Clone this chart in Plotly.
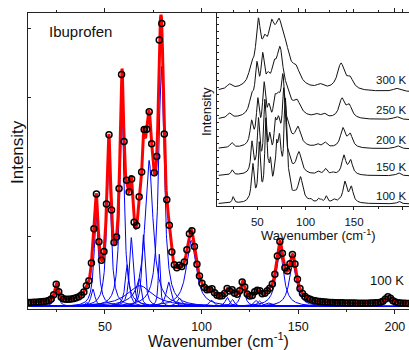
import numpy as np
import plotly.graph_objects as go

# ---------------- data: 100 K fit components (centre cm-1, height, HWHM) ----------------
peak_centers = [25.0, 40.5, 43.8, 45.5, 52.0, 58.8, 61.5, 63.6, 67.8, 69.9, 72.8, 78.1, 79.2,
                83.0, 88.5, 94.6, 105.2, 113.3, 116.0, 121.3, 128.0, 129.8, 134.5, 140.5, 147.2,
                196.6, 68.0]
peak_heights = [0.25, 0.06, 0.25, 1.32, 2.15, 2.90, 0.60, 0.99, 0.40, 1.03, 2.10, 0.75, 3.45,
                0.35, 0.12, 0.95, 0.09, 0.13, 0.10, 0.26, 0.09, 0.08, 0.05, 0.81, 0.61,
                0.10, 0.30]
peak_widths = [1.2, 1.0, 1.2, 1.3, 1.3, 1.3, 1.2, 1.1, 1.0, 1.0, 2.5, 0.6, 1.7,
               1.5, 1.5, 3.0, 1.5, 1.3, 1.2, 1.5, 1.3, 1.3, 2.0, 2.3, 2.3,
               2.0, 8.0]
background = 0.035
data_step = 1.3          # spacing of measured points (cm-1)

# ---------------- inset: temperature series (centre, height[px units], HWHM) ----------------
temperatures = ["100 K", "150 K", "200 K", "250 K", "300 K"]
inset_offsets = [2, 30, 57, 86, 114]
inset_scale_100 = 25.5

c150 = [24.0, 44.5, 51.2, 57.8, 62.8, 68.5, 71.8, 77.3, 82.5, 93.0, 113.0, 120.5, 128.0, 139.5, 146.5, 196.0, 67.0]
h150 = [5, 30, 50, 65, 24, 25, 40, 72, 9, 21, 3, 6, 2, 19, 14, 3, 8]
w150 = [1.5, 1.4, 1.4, 1.5, 1.6, 1.4, 3.0, 1.9, 2.0, 3.2, 2.0, 2.0, 2.0, 2.5, 2.5, 2.5, 9]

c200 = [23.5, 44.0, 50.5, 57.0, 62.0, 68.0, 71.5, 76.5, 82.0, 92.0, 112.0, 120.0, 138.5, 146.0, 195.0, 67.0]
h200 = [5, 22, 40, 52, 22, 20, 30, 55, 10, 18, 3, 5, 19, 13, 3, 10]
w200 = [2.0, 1.8, 1.8, 2.0, 2.2, 2.0, 3.5, 2.4, 2.5, 3.5, 2.5, 2.5, 3.0, 3.0, 3.0, 10]

c250 = [21.0, 44.0, 49.5, 55.5, 61.0, 67.0, 73.5, 81.0, 91.0, 111.0, 119.0, 137.5, 145.0, 194.0, 67.0]
h250 = [5, 15, 42, 46, 18, 22, 55, 10, 13, 3, 4, 19, 12, 3, 13]
w250 = [2.5, 2.5, 2.2, 2.3, 3.0, 3.0, 4.5, 3.0, 4.5, 3.0, 3.0, 3.5, 3.5, 3.5, 12]

c300 = [21.0, 44.0, 51.0, 57.5, 64.5, 72.5, 79.5, 90.0, 115.0, 136.5, 146.0, 194.0, 67.0]
h300 = [5, 14, 55, 22, 36, 42, 22, 14, 4, 26, 10, 3, 16]
w300 = [3.0, 3.0, 3.0, 3.0, 4.0, 5.0, 5.0, 5.0, 4.0, 4.5, 4.0, 4.0, 14]

label_y = [10, 39, 66, 96, 126]


def lor(x, c, h, w):
    return h / (1.0 + ((x - c) / w) ** 2)


def spectrum(x, cs, hs, ws):
    y = np.zeros_like(x)
    for c, h, w in zip(cs, hs, ws):
        y += lor(x, c, h, w)
    return y


xf = np.arange(10.0, 207.6, 0.1)
xd = np.arange(10.5, 207.6, data_step)

fig = go.Figure()

for c, h, w in zip(peak_centers, peak_heights, peak_widths):
    fig.add_trace(go.Scatter(x=xf, y=lor(xf, c, h, w), mode="lines",
                             line=dict(color="rgb(0,0,255)", width=1), hoverinfo="skip",
                             showlegend=False))

fit = spectrum(xf, peak_centers, peak_heights, peak_widths) + background
fig.add_trace(go.Scatter(x=xf, y=fit, mode="lines", line=dict(color="rgb(255,0,0)", width=3),
                         showlegend=False))
meas = spectrum(xd, peak_centers, peak_heights, peak_widths) + background
fig.add_trace(go.Scatter(x=xd, y=meas, mode="markers",
                         marker=dict(symbol="circle-open", size=6, color="black",
                                     line=dict(width=1.5, color="black")),
                         showlegend=False))

sets = [(peak_centers, [h * inset_scale_100 for h in peak_heights], peak_widths),
        (c150, h150, w150), (c200, h200, w200), (c250, h250, w250), (c300, h300, w300)]
for (cs, hs, ws), off in zip(sets, inset_offsets):
    y = spectrum(xf, cs, hs, ws) + off
    fig.add_trace(go.Scatter(x=xf, y=y, mode="lines", xaxis="x2", yaxis="y2",
                             line=dict(color="#111", width=1), showlegend=False))

W, H = 409, 350
L, T, B = 28, 13, 41
PW, PH = W - L, H - T - B

axis_col = "#222"
fig.update_layout(
    width=W, height=H,
    margin=dict(l=L, r=0, t=T, b=B),
    paper_bgcolor="white", plot_bgcolor="white",
    font=dict(family="Arial, Liberation Sans, sans-serif", color="#111"),
    xaxis=dict(domain=[0, 1], range=[10.2, 207.3], showgrid=False, zeroline=False,
               showline=True, linecolor=axis_col, linewidth=1, mirror="ticks",
               ticks="outside", ticklen=4, tickcolor=axis_col, dtick=50, tick0=0,
               minor=dict(dtick=25, ticks="outside", ticklen=2, tickcolor=axis_col),
               tickfont=dict(size=12.5), ticklabelstandoff=2),
    yaxis=dict(domain=[0, 1], range=[-0.036, 4.217], showgrid=False, zeroline=False,
               showline=True, linecolor=axis_col, linewidth=1,
               ticks="inside", ticklen=3, tickcolor=axis_col, dtick=1, tick0=0,
               showticklabels=False),
    xaxis2=dict(domain=[(217 - L) / PW, 1], anchor="y2", range=[8.3, 206.9], showgrid=False,
                zeroline=False, showline=True, linecolor=axis_col, linewidth=1, mirror="ticks",
                ticks="outside", ticklen=3, tickcolor=axis_col, dtick=50, tick0=0,
                minor=dict(dtick=25, ticks="outside", ticklen=2, tickcolor=axis_col),
                tickfont=dict(size=11.5), ticklabelstandoff=2),
    yaxis2=dict(domain=[(H - B - 206) / PH, 1], anchor="x2", range=[0, 193], showgrid=False,
                zeroline=False, showline=True, linecolor=axis_col, linewidth=1,
                ticks="inside", ticklen=2, tickcolor=axis_col, dtick=7, tick0=0,
                showticklabels=False),
)


def px(xp):
    return (xp - L) / PW


def py(yp):
    return (H - B - yp) / PH


ann = []
ann.append(dict(text="Wavenumber (cm<sup>-1</sup>)", xref="paper", yref="paper", x=px(218), y=py(340),
                showarrow=False, font=dict(size=16), xanchor="center", yanchor="middle"))
ann.append(dict(text="Intensity", xref="paper", yref="paper", x=px(17), y=py(152), textangle=-90,
                showarrow=False, font=dict(size=17), xanchor="center", yanchor="middle"))
ann.append(dict(text="Ibuprofen", xref="paper", yref="paper", x=px(80), y=py(32),
                showarrow=False, font=dict(size=15), xanchor="center", yanchor="middle"))
ann.append(dict(text="100 K", xref="paper", yref="paper", x=px(387), y=py(280),
                showarrow=False, font=dict(size=13), xanchor="center", yanchor="middle"))
ann.append(dict(text="Wavenumber (cm<sup>-1</sup>)", xref="paper", yref="paper",
                x=px(318), y=py(235),
                showarrow=False, font=dict(size=13), xanchor="center", yanchor="middle"))
ann.append(dict(text="Intensity", xref="paper", yref="paper", x=px(207), y=py(112),
                textangle=-90, showarrow=False, font=dict(size=13), xanchor="center",
                yanchor="middle"))
for t, ly in zip(temperatures, label_y):
    ann.append(dict(text=t, xref="x2", yref="y2", x=205.5, y=ly, showarrow=False,
                    font=dict(size=11.5), xanchor="right", yanchor="middle"))
fig.update_layout(annotations=ann)

fig.write_html("out.html",
               config={"displayModeBar": False},
               post_script="document.body.style.margin='0';"
                           "document.body.style.overflow='hidden';"
                           "document.documentElement.style.overflow='hidden';")
